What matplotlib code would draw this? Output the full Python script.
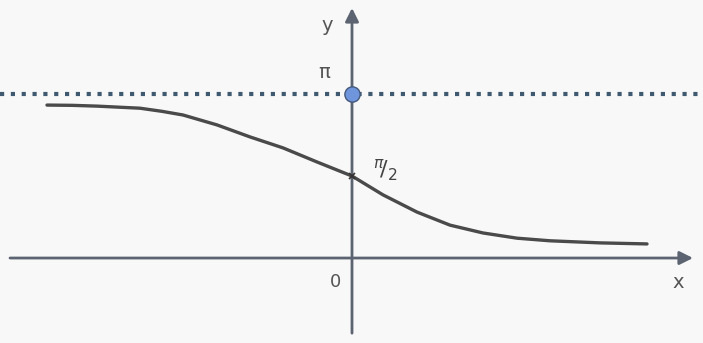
import numpy as np
import matplotlib.pyplot as plt

# sketch of a decreasing curve between 0 and pi, crossing pi/2 at x = 0
curve_x = [-3.05, -2.80, -2.55, -2.12, -1.90, -1.69, -1.35, -1.02, -0.69,
           -0.35, 0.0, 0.31, 0.65, 0.98, 1.31, 1.65, 1.98, 2.48, 2.95]
curve_y = [2.93, 2.925, 2.91, 2.87, 2.81, 2.74, 2.55, 2.32, 2.11,
           1.84, np.pi / 2, 1.21, 0.88, 0.63, 0.48, 0.38, 0.33, 0.29, 0.27]

top_value = np.pi
mid_value = np.pi / 2

axis_col = '#5b6470'
curve_col = '#4a4a4a'
text_col = '#555555'
bg = '#f8f8f8'

fig = plt.figure(figsize=(7.03, 3.43), dpi=100)
fig.patch.set_facecolor(bg)
ax = fig.add_axes([0, 0, 1, 1])
ax.set_facecolor(bg)
ax.set_xlim(-3.52, 3.51)
ax.set_ylim(-1.628, 4.943)
ax.axis('off')

# axes with arrow heads
ax.annotate('', xy=(3.41, 0), xytext=(-3.42, 0),
            arrowprops=dict(arrowstyle='-|>', mutation_scale=20, lw=2,
                            color=axis_col, shrinkA=0, shrinkB=0))
ax.annotate('', xy=(0, 4.79), xytext=(0, -1.44),
            arrowprops=dict(arrowstyle='-|>', mutation_scale=20, lw=2,
                            color=axis_col, shrinkA=0, shrinkB=0))

# dotted asymptote at pi
ax.axhline(top_value, color='#3f5a70', lw=3, linestyle=(0, (1, 1.6)))

# the curve
ax.plot(curve_x, curve_y, color=curve_col, lw=2.4, solid_capstyle='round',
        solid_joinstyle='round', zorder=3)
ax.plot([0], [mid_value], marker='x', color='#333333', ms=4, mew=1.2, zorder=4)

# point on the y axis at pi
ax.plot([0], [top_value], marker='o', ms=11, color='#6f95dc',
        markeredgecolor='#44597a', mew=1, zorder=5)

ax.text(-0.25, 4.46, 'y', color=text_col, fontsize=14, ha='center', va='center')
ax.text(-0.28, 3.56, 'π', color=text_col, fontsize=14, ha='center', va='center')
ax.text(-0.17, -0.46, '0', color=text_col, fontsize=13, ha='center', va='center')
ax.text(3.26, -0.46, 'x', color=text_col, fontsize=14, ha='center', va='center')
ax.text(0.33, 1.68, r'$^{\pi}\!/_{2}$', color='#444444', fontsize=16,
        ha='center', va='center')

plt.savefig('out.png', dpi=100, facecolor=fig.get_facecolor())
